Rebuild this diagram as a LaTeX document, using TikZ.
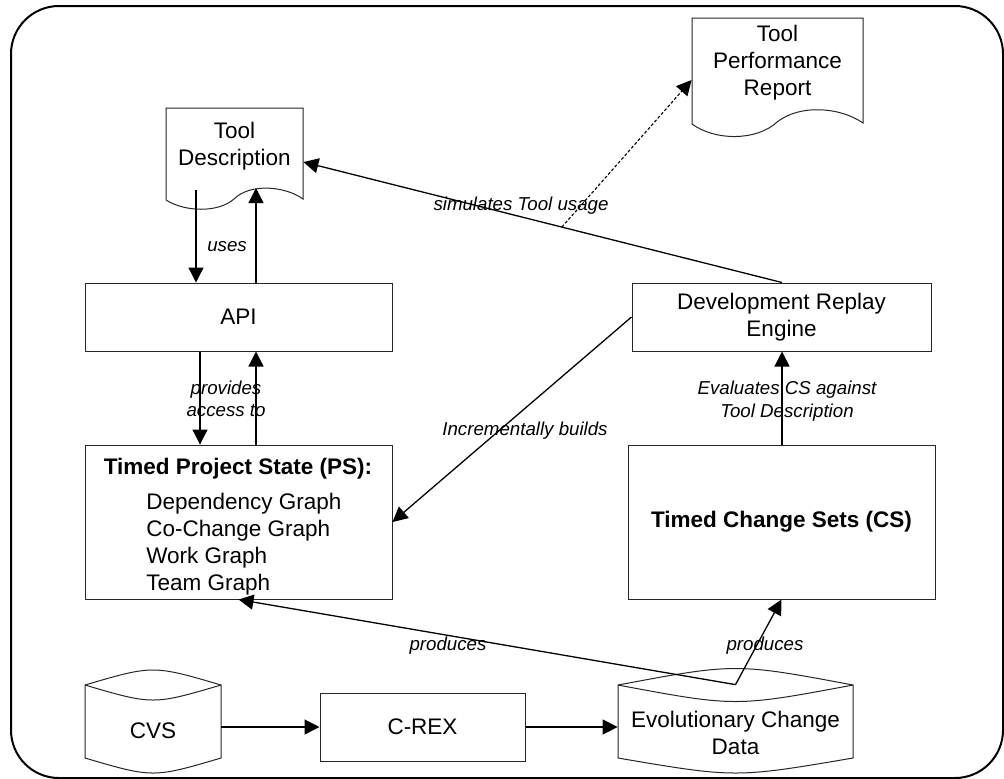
\documentclass[tikz,border=0pt]{standalone}
\usepackage{fontspec}
\setmainfont{Liberation Sans}
\usetikzlibrary{arrows.meta,calc}
\begin{document}
\begin{tikzpicture}[x=0.5pt,y=-0.5pt,
  every node/.style={font=\fontsize{11.25pt}{13.5pt}\selectfont, text=black},
  box/.style={draw=black!85, line width=0.5pt, inner sep=0pt, align=center},
  txt/.style={inner sep=0pt, align=center},
  shp/.style={draw=black!85, line width=0.5pt, fill=white},
  lbl/.style={font=\fontsize{9.35pt}{11.25pt}\selectfont\itshape, inner sep=0.5pt, align=center},
  arr/.style={-{Triangle[length=7.5pt,width=7.5pt]}, line width=0.65pt},
  darr/.style={arr, dash pattern=on 1.5pt off 1pt, line width=0.55pt}]
\useasboundingbox (0,0) rectangle (1004,778);
\fill[white] (0,0) rectangle (1004,778);
\draw[line width=1pt, rounded corners=24pt] (11,6) rectangle (1003,778);

% document shapes
\draw[shp] (166,108) -- (303,108) -- (303,199) .. controls (285,186) and (250,183) .. (234,199)
  .. controls (218,213) and (185,212) .. (166,200) -- cycle;
\draw[shp] (692,18) -- (863,18) -- (863,123) .. controls (840,107) and (800,104) .. (777,122)
  .. controls (757,141) and (715,141) .. (692,124) -- cycle;
% cylinders
\draw[shp] (85,685) .. controls (153,665) .. (221,685) -- (221,758) .. controls (153,778) .. (85,758) -- cycle;
\draw[shp, fill=none] (85,685) .. controls (153,705) .. (221,685);
\draw[shp] (618,685) .. controls (735.5,663) .. (853,685) -- (853,758) .. controls (735.5,778) .. (618,758) -- cycle;
\draw[shp, fill=none] (618,685) .. controls (735.5,707) .. (853,685);

% nodes
\node[txt, minimum width=68.5pt, minimum height=38.5pt] (td) at (234.5,146.5) {Tool\\Description};
\node[txt, minimum width=85.5pt, minimum height=44.5pt] (tpr) at (777.5,62.5) {Tool\\Performance\\Report};
\node[box, minimum width=153.5pt, minimum height=34pt] (api) at (238.5,317) {API};
\node[box, minimum width=149.5pt, minimum height=34pt] (dre) at (781.5,317) {Development Replay\\Engine};
\node[box, minimum width=153.5pt, minimum height=77pt] (ps) at (238.5,522) {};
\node[anchor=base, inner sep=0pt] (pst) at (238,474) {\bfseries Timed Project State (PS):};
\node[anchor=base west, inner sep=0pt, align=left] (psl) at (146,590)
  {Dependency Graph\\Co-Change Graph\\Work Graph\\Team Graph};
\node[box, minimum width=153.5pt, minimum height=77pt] (cs) at (781.5,522) {\bfseries Timed Change Sets (CS)};
\node[txt, minimum width=68pt, minimum height=37pt] (cvs) at (153,731) {CVS};
\node[box, minimum width=102.5pt, minimum height=34pt] (crex) at (422.5,727) {C-REX};
\node[txt, minimum width=117.5pt, minimum height=35.5pt] (ecd) at (735.5,732.5) {Evolutionary Change\\Data};

% helper coordinates
\coordinate (x200) at (200,0);
\coordinate (x256) at (256,0);
\coordinate (x782) at (782,0);
\coordinate (tdU) at (196,190);
\coordinate (tdW) at (256,188);
\coordinate (ecdtop) at ([yshift=6pt]ecd.north);

% connectors
\draw[arr] (tdU) -- (tdU |- api.north);
\draw[arr] (x256 |- api.north) -- (tdW);
\node[lbl] at (227,247) {uses};

\draw[arr] (x200 |- api.south) -- (x200 |- ps.north);
\draw[arr] (x256 |- ps.north) -- (x256 |- api.south);
\node[lbl] at (226,399) {provides\\access to};

\draw[arr] (x782 |- dre.north) -- coordinate[pos=0.46] (sim) ([yshift=-7.75pt]td.east);
\node[lbl] at (521,206) {simulates Tool usage};
\draw[darr] (sim) -- ([yshift=-8.75pt]tpr.west);

\draw[arr] (dre.west) -- (ps.east);
\node[lbl] at (525,431) {Incrementally builds};

\draw[arr] (x782 |- cs.north) -- (x782 |- dre.south);
\node[lbl] at (787,401) {Evaluates CS against\\Tool Description};

\draw[arr] (ecdtop) -- (ps.south);
\draw[arr] (ecdtop) -- (cs.south);
\node[lbl] at (448,646) {produces};
\node[lbl] at (765,646) {produces};

\draw[arr] (crex.west -| cvs.east) -- (crex.west);
\draw[arr] (crex.east) -- (crex.east -| ecd.west);
\end{tikzpicture}
\end{document}
